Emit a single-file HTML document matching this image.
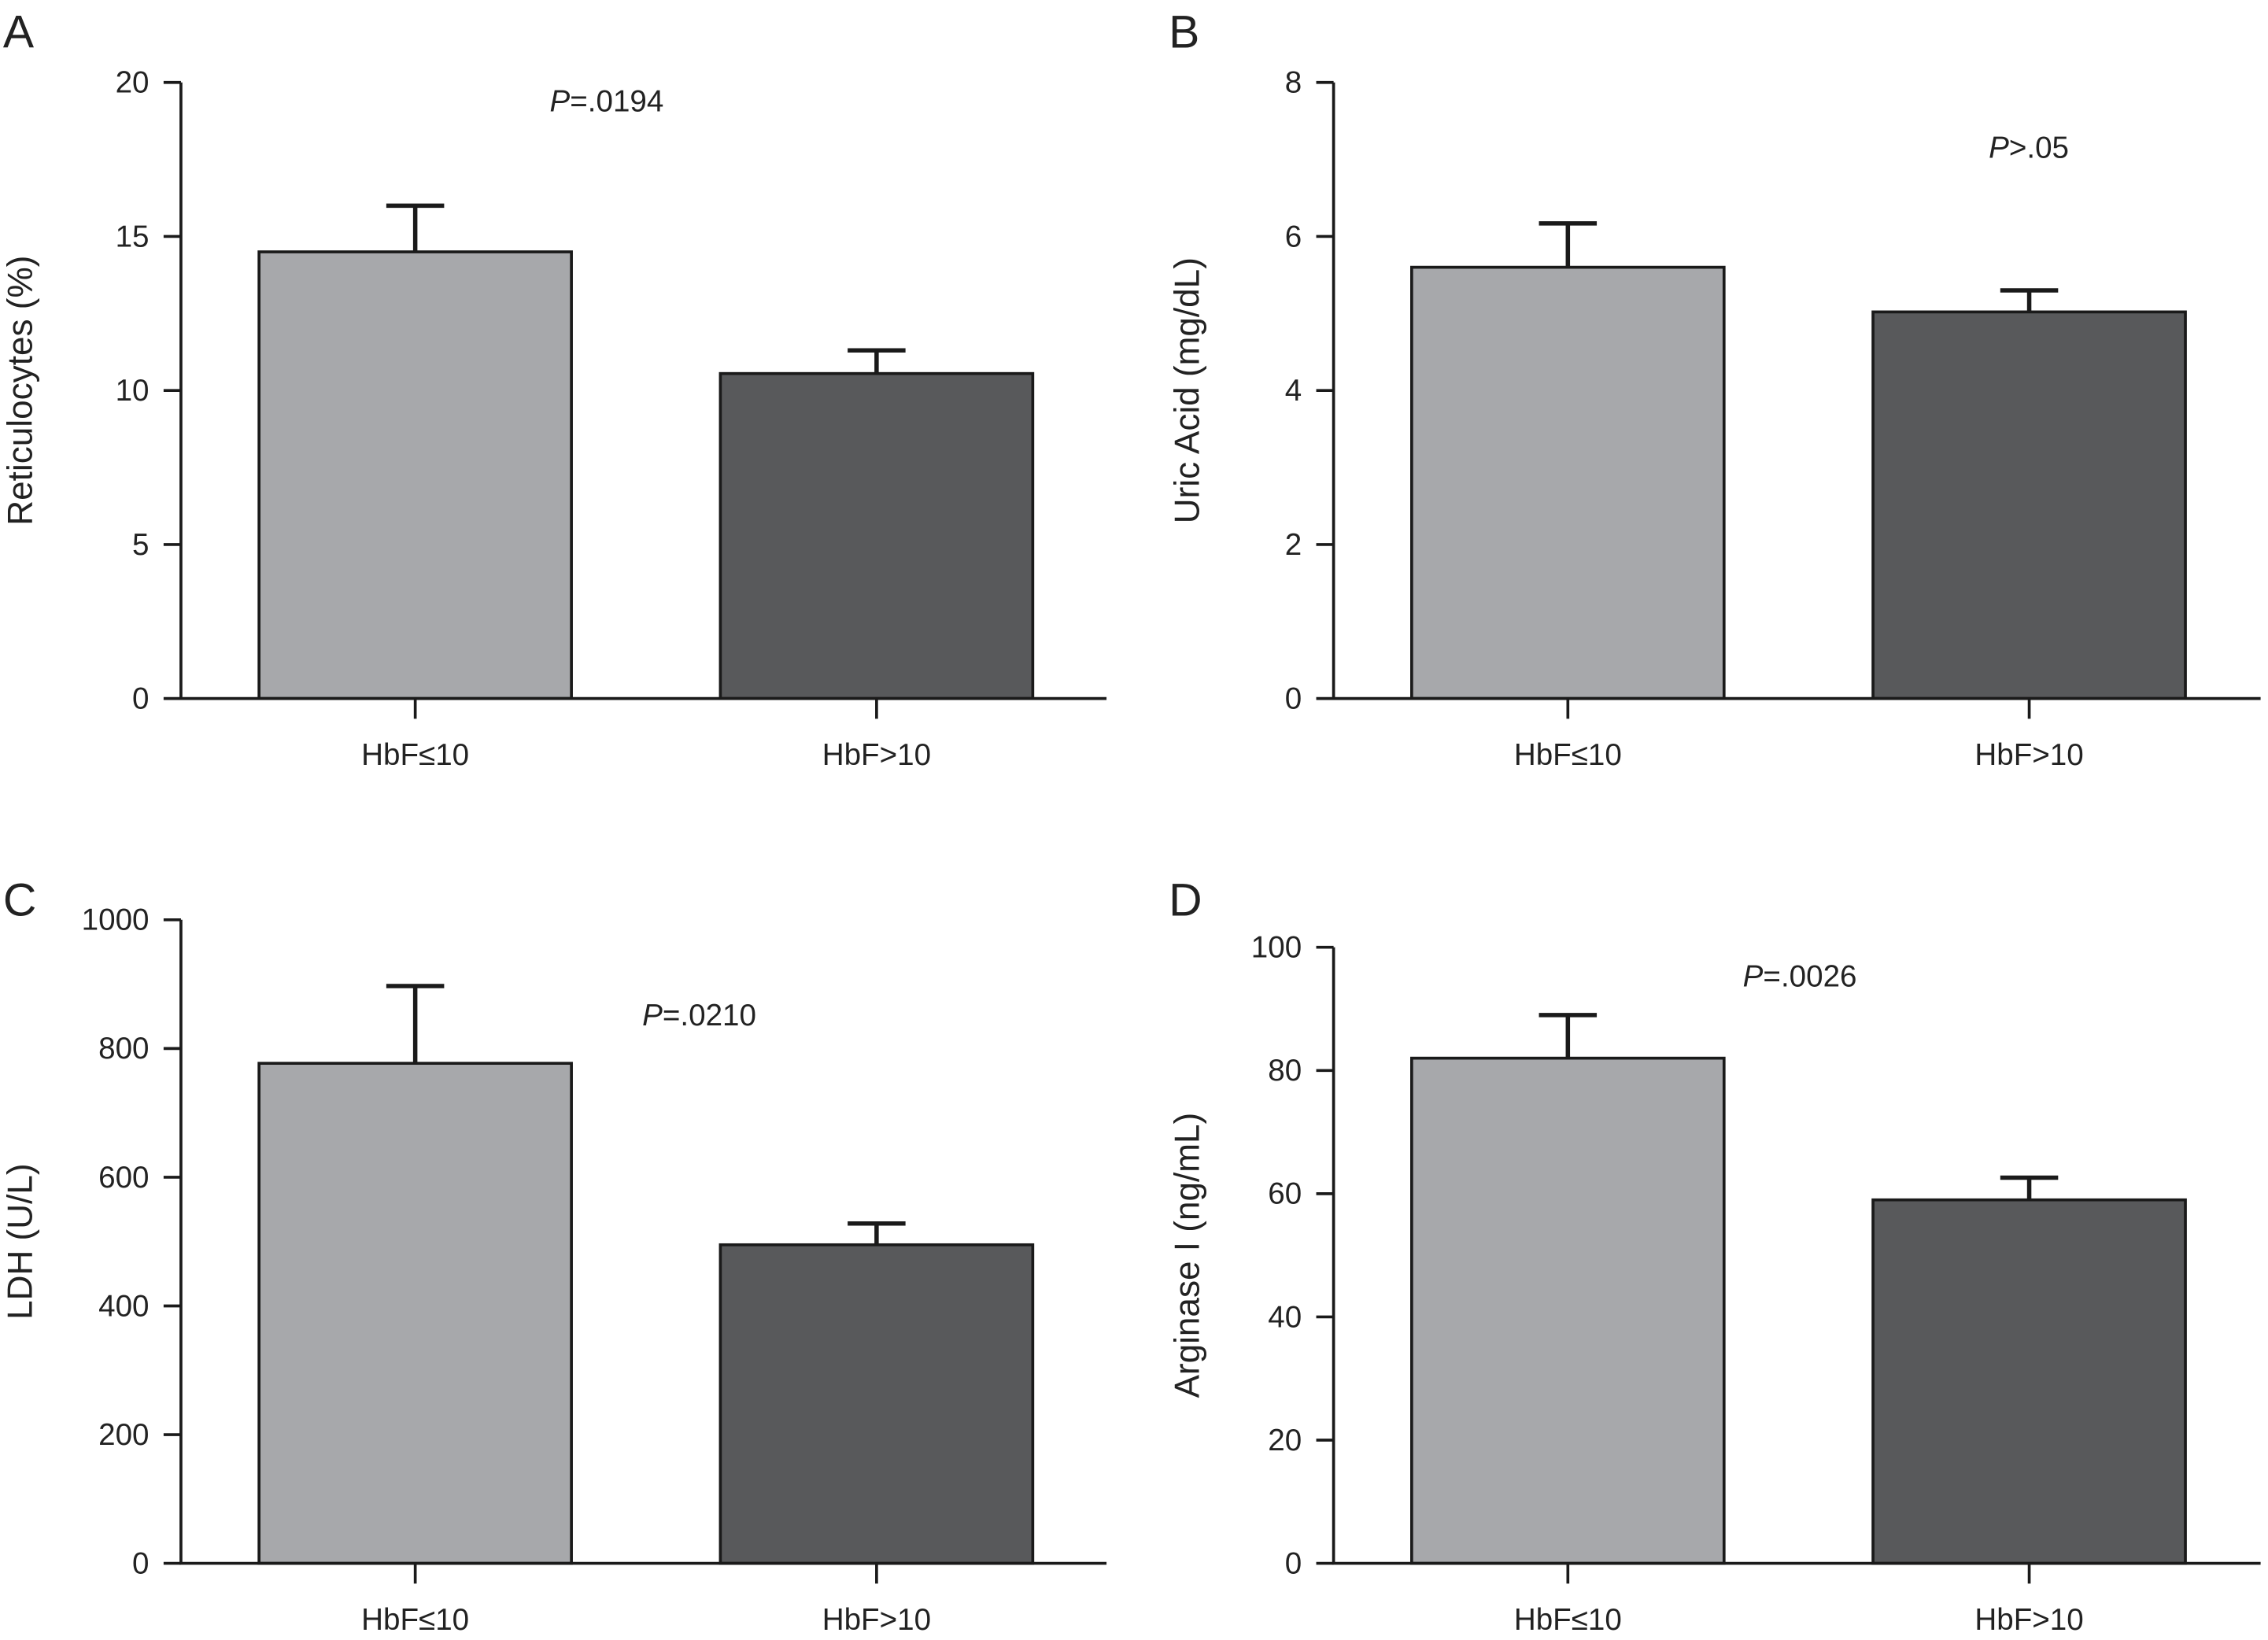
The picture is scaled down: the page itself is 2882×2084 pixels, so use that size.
<!DOCTYPE html>
<html><head><meta charset="utf-8"><style>
html,body{margin:0;padding:0;background:#fff;}
svg{display:block;font-family:"Liberation Sans",Arial,sans-serif;}
</style></head><body>
<svg id="chart" width="2882" height="2084" viewBox="0 0 1568 1134" xmlns="http://www.w3.org/2000/svg"></svg>
<script>
const categories = ["HbF≤10", "HbF>10"];
const panelLetters = ["A", "B", "C", "D"];
const yTitles = ["Reticulocytes (%)", "Uric Acid (mg/dL)", "LDH (U/L)", "Arginase I (ng/mL)"];
const yMaxes = [20, 8, 1000, 100];
const yTickSteps = [5, 2, 200, 20];
const meansA = [14.5, 10.55];
const errorsA = [1.5, 0.75];
const meansB = [5.6, 5.02];
const errorsB = [0.57, 0.28];
const meansC = [777, 495];
const errorsC = [120, 33];
const meansD = [82, 59];
const errorsD = [7, 3.6];
const pLabels = [["P", "=.0194"], ["P", ">.05"], ["P", "=.0210"], ["P", "=.0026"]];

const svg = document.getElementById('chart');
const NS = 'http://www.w3.org/2000/svg';
function mk(tag, attrs, parent){const e=document.createElementNS(NS,tag);for(const k in attrs)e.setAttribute(k,attrs[k]);(parent||svg).appendChild(e);return e;}

const layouts = [
 {ax:125, top:57, bot:483, right:765, letterX:2, letterY:33, titleX:22, pX:380, pY:77},
 {ax:922, top:57, bot:483, right:1563, letterX:808, letterY:33, titleX:829, pX:1375, pY:109},
 {ax:125, top:636, bot:1081, right:765, letterX:2, letterY:633, titleX:22, pX:444, pY:709},
 {ax:922, top:655, bot:1081, right:1563, letterX:808, letterY:633, titleX:829, pX:1205, pY:682}
];
const means = [meansA, meansB, meansC, meansD];
const errs = [errorsA, errorsB, errorsC, errorsD];
const colors = ["#a7a8ab", "#58595b"];

layouts.forEach((L, i) => {
  const g = mk('g', {});
  
  
  const y = v => L.bot - (v / yMaxes[i]) * (L.bot - L.top);
  const bx = [L.ax + 54, L.ax + 373];
  const bw = 216;
  const lt = mk('text', {x:L.letterX, y:L.letterY, 'font-size':32, fill:'#222'}, g);
  lt.textContent = panelLetters[i];
  
  
  means[i].forEach((m, j) => {
    const r = mk('rect', {x:bx[j], y:y(m), width:bw, height:L.bot - y(m), fill:colors[j], stroke:'#1a1a1a', 'stroke-width':2}, g);
    
    
    const cx = bx[j] + bw / 2;
    const e = mk('path', {d:`M${cx},${y(m)}V${y(m + errs[i][j])}M${cx-20},${y(m + errs[i][j])}H${cx+20}`, stroke:'#1a1a1a', 'stroke-width':3, fill:'none'}, g);
    
    
    const tk = mk('line', {x1:cx, x2:cx, y1:L.bot, y2:L.bot + 14, stroke:'#1a1a1a', 'stroke-width':2}, g);
    
    
    const tl = mk('text', {x:cx, y:L.bot + 46, 'font-size':21, 'text-anchor':'middle', fill:'#222'}, g);
    tl.textContent = categories[j];
    
    
  });
  const axes = mk('path', {d:`M${L.ax},${L.top}V${L.bot}H${L.right}`, stroke:'#1a1a1a', 'stroke-width':2, fill:'none'}, g);
  
  
  for (let v = 0; v <= yMaxes[i] + 1e-9; v += yTickSteps[i]) {
    const t = mk('line', {x1:L.ax - 12, x2:L.ax, y1:y(v), y2:y(v), stroke:'#1a1a1a', 'stroke-width':2}, g);
    
    
    const tl = mk('text', {x:L.ax - 22, y:y(v) + 7, 'font-size':21, 'text-anchor':'end', fill:'#222'}, g);
    tl.textContent = String(v);
    
    
  }
  const yt = mk('text', {x:0, y:0, 'font-size':24, 'text-anchor':'middle', fill:'#222', transform:`translate(${L.titleX},${(L.top + L.bot) / 2}) rotate(-90)`}, g);
  yt.textContent = yTitles[i];
  
  
  const pt = mk('text', {x:L.pX, y:L.pY, 'font-size':21, fill:'#222'}, g);
  const pi = mk('tspan', {'font-style':'italic'}, pt); pi.textContent = pLabels[i][0];
  const pr = mk('tspan', {}, pt); pr.textContent = pLabels[i][1];
  
  
});
</script>
</body></html>
